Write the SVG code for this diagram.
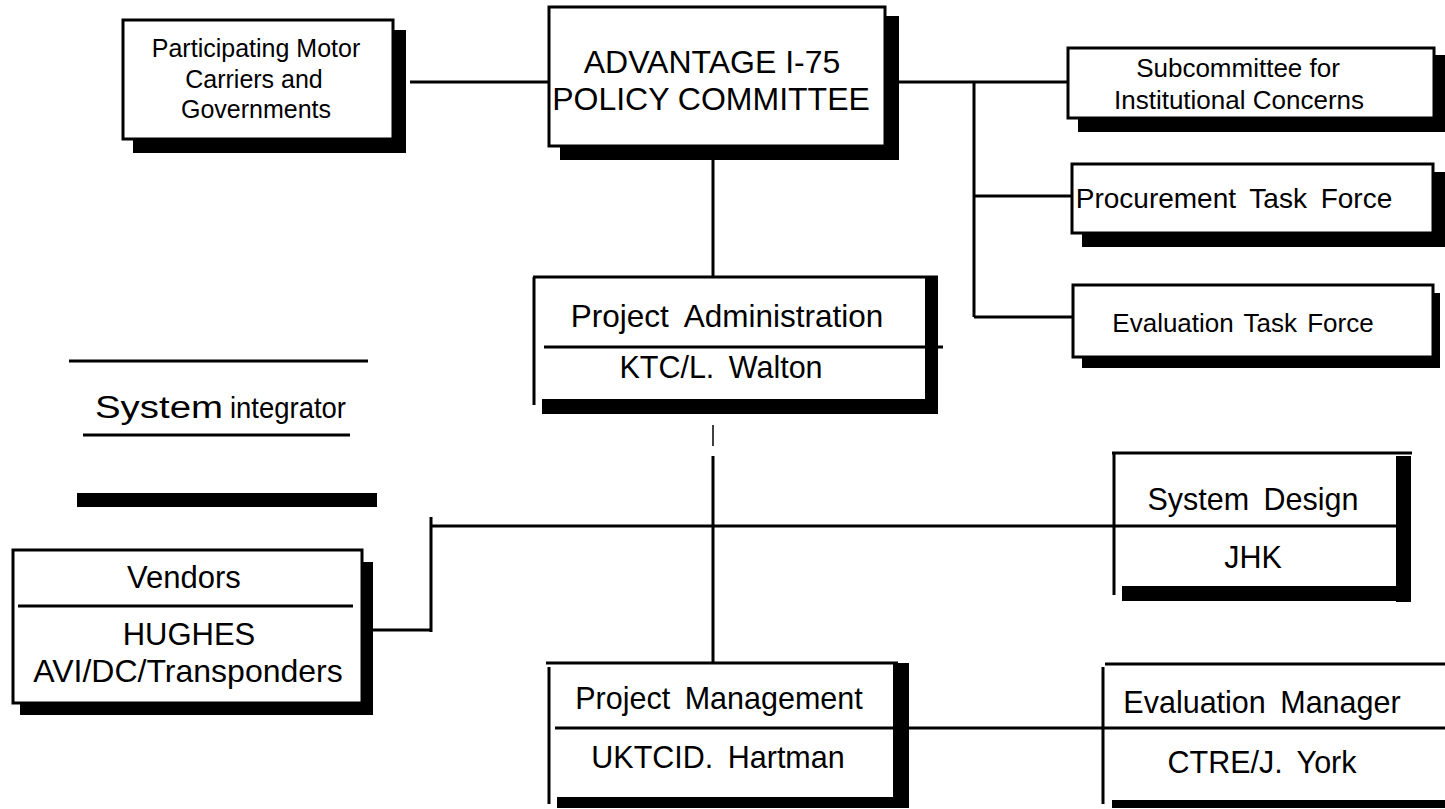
<svg xmlns="http://www.w3.org/2000/svg" width="1445" height="809" viewBox="0 0 1445 809">
  <style>
    text { font-family: "Liberation Sans", Arial, Helvetica, sans-serif; fill: #000; text-anchor: middle; }
    .box { fill: #fff; stroke: #000; stroke-width: 3; }
    .shadow { fill: #000; }
    .line { stroke: #000; stroke-width: 3; fill: none; }
    .thin { stroke: #000; stroke-width: 1.5; fill: none; }
    .t25 { font-size: 25px; }
    .t26 { font-size: 26px; }
    .t28 { font-size: 28px; }
    .t30 { font-size: 30.5px; word-spacing: 6px; }
    .t32 { font-size: 32px; }
  </style>

  <!-- connectors -->
  <g id="connectors">
    <path class="line" d="M410 82 H549"/>
    <path class="line" d="M899 82 H1068"/>
    <path class="line" d="M974 82 V317"/>
    <path class="line" d="M974 196 H1072"/>
    <path class="line" d="M974 317 H1073"/>
    <path class="line" d="M713 160 V277"/>
    <path class="thin" d="M713 425 V446"/>
    <path class="line" d="M713 456 V663"/>
    <path class="line" d="M373 630 H431 M431 517 V632 M431 526 H1396"/>
    <path class="line" d="M893 728 H1103"/>
  </g>

  <!-- Participating Motor Carriers and Governments -->
  <g id="participants">
    <rect class="shadow" x="133" y="30" width="273" height="123"/>
    <rect class="box" x="123" y="20" width="270" height="119"/>
    <text class="t25" x="256" y="57">Participating Motor</text>
    <text class="t25" x="254" y="88">Carriers and</text>
    <text class="t25" x="256" y="118">Governments</text>
  </g>

  <!-- ADVANTAGE I-75 Policy Committee -->
  <g id="policy-committee">
    <rect class="shadow" x="560" y="16" width="339" height="144"/>
    <rect class="box" x="549" y="7" width="336" height="139"/>
    <text class="t32" x="712" y="73">ADVANTAGE I-75</text>
    <text class="t32" x="711" y="110">POLICY COMMITTEE</text>
  </g>

  <!-- Subcommittee for Institutional Concerns -->
  <g id="subcommittee">
    <rect class="shadow" x="1078" y="55" width="367" height="77"/>
    <rect class="box" x="1068" y="48" width="366" height="70"/>
    <text class="t26" x="1238" y="77">Subcommittee for</text>
    <text class="t26" x="1239" y="109">Institutional Concerns</text>
  </g>

  <!-- Procurement Task Force -->
  <g id="procurement">
    <rect class="shadow" x="1082" y="172" width="363" height="75"/>
    <rect class="box" x="1072" y="164" width="361" height="69"/>
    <text class="t28" x="1234" y="208" style="word-spacing:6px">Procurement Task Force</text>
  </g>

  <!-- Evaluation Task Force -->
  <g id="evaluation-task-force">
    <rect class="shadow" x="1082" y="293" width="358" height="75"/>
    <rect class="box" x="1073" y="285" width="360" height="72"/>
    <text class="t26" x="1243" y="332" style="word-spacing:3px">Evaluation Task Force</text>
  </g>

  <!-- Project Administration -->
  <g id="project-administration">
    <rect x="534" y="277" width="391" height="122" fill="#fff"/>
    <path class="line" d="M533 277 H938 M534 277 V405 M544 347 H943"/>
    <rect class="shadow" x="925" y="277" width="13" height="137"/>
    <rect class="shadow" x="542" y="399" width="396" height="15"/>
    <text x="727" y="327" style="font-size:31.5px; word-spacing:8px">Project Administration</text>
    <text class="t30" x="721" y="378">KTC/L. Walton</text>
  </g>

  <!-- System integrator -->
  <g id="system-integrator">
    <path class="line" d="M69 361 H368 M83 435 H350"/>
    <text x="159" y="418" style="font-size:31px" textLength="128" lengthAdjust="spacingAndGlyphs">System</text>
    <text x="288" y="418" style="font-size:29px" textLength="116" lengthAdjust="spacingAndGlyphs">integrator</text>
    <rect class="shadow" x="77" y="493" width="300" height="14"/>
  </g>

  <!-- Vendors -->
  <g id="vendors">
    <rect class="shadow" x="20" y="562" width="353" height="153"/>
    <rect class="box" x="13" y="550" width="349" height="153"/>
    <path class="line" d="M18 606 H353"/>
    <text x="184" y="588" style="font-size:31px">Vendors</text>
    <text x="189" y="645" style="font-size:31px">HUGHES</text>
    <text x="188" y="682" style="font-size:32px">AVI/DC/Transponders</text>
  </g>

  <!-- System Design -->
  <g id="system-design">
    <rect x="1114" y="453" width="282" height="133" fill="#fff"/>
    <path class="line" d="M1112 453 H1412 M1114 453 V595 M1114 526 H1396"/>
    <rect class="shadow" x="1396" y="456" width="15" height="146"/>
    <rect class="shadow" x="1122" y="586" width="289" height="15"/>
    <text class="t30" x="1253" y="510">System Design</text>
    <text class="t30" x="1253" y="568">JHK</text>
  </g>

  <!-- Project Management -->
  <g id="project-management">
    <rect x="549" y="663" width="344" height="134" fill="#fff"/>
    <path class="line" d="M546 663 H898 M549 667 V804 M555 728 H893"/>
    <rect class="shadow" x="893" y="663" width="16" height="144"/>
    <rect class="shadow" x="557" y="797" width="352" height="11"/>
    <text class="t30" x="719" y="709">Project Management</text>
    <text class="t30" x="718" y="768">UKTCID. Hartman</text>
  </g>

  <!-- Evaluation Manager -->
  <g id="evaluation-manager">
    <rect x="1103" y="664" width="342" height="136" fill="#fff"/>
    <path class="line" d="M1105 664 H1445 M1103 667 V804 M1103 728 H1445"/>
    <rect class="shadow" x="1112" y="800" width="333" height="8"/>
    <text class="t30" x="1262" y="713">Evaluation Manager</text>
    <text class="t30" x="1262" y="773">CTRE/J. York</text>
  </g>
</svg>
